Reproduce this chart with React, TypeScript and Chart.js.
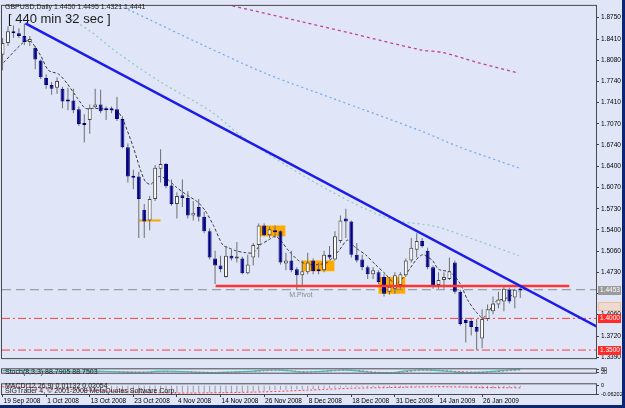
import React, { useEffect, useRef } from "react";
import { Chart, registerables } from "chart.js";

Chart.register(...registerables);

const FONT = "'Liberation Sans', Arial, sans-serif";

// ---------- texts ----------
const headerText = "GBPUSD,Daily  1.4450 1.4495 1.4321 1.4441";
const timerText = "[ 440 min 32 sec ]";
const stochText = "Stoch(8,3,3) 88.7905 88.7503";
const macdText = "MACD(12,26,9) 0.01132 0.02054";
const copyrightText = "SIGTrader 4, \u00a9 2001-2008 MetaQuotes Software Corp.";
const pivotName = "M.Pivot";

// ---------- x axis ----------
const dateLabels = [
  "19 Sep 2008", "1 Oct 2008", "13 Oct 2008", "23 Oct 2008", "4 Nov 2008", "14 Nov 2008",
  "26 Nov 2008", "8 Dec 2008", "18 Dec 2008", "31 Dec 2008", "14 Jan 2009", "26 Jan 2009",
];
const dateLabelIdx = [0, 8, 16, 24, 32, 40, 48, 56, 64, 72, 80, 88];
const XMIN = -0.1;
const XMAX = 108.9;

// ---------- price axis ----------
const YMIN = 1.3373;
const YMAX = 1.8935;
const priceTicks = [
  1.875, 1.841, 1.808, 1.774, 1.741, 1.707, 1.674, 1.64, 1.607, 1.573, 1.54, 1.506, 1.473,
  1.439, 1.406, 1.372, 1.339,
];

// ---------- OHLC (daily bars) ----------
const opens = [
  1.8165, 1.835, 1.8535, 1.8504, 1.8458, 1.8365, 1.8273, 1.8072, 1.7795, 1.7687, 1.7641, 1.7626,
  1.7456, 1.7441, 1.7302, 1.7071, 1.7132, 1.7333, 1.7379, 1.7302, 1.7302, 1.7302, 1.7148, 1.6701,
  1.6254, 1.6239, 1.5715, 1.5546, 1.5884, 1.6362, 1.6439, 1.61, 1.5807, 1.5946, 1.59, 1.5623,
  1.5761, 1.5607, 1.5376, 1.4944, 1.4837, 1.4652, 1.4991, 1.4944, 1.4944, 1.4713, 1.496, 1.516,
  1.5468, 1.5314, 1.5391, 1.5376, 1.4868, 1.4914, 1.4775, 1.4683, 1.4729, 1.4914, 1.4775, 1.476,
  1.5006, 1.4929, 1.5222, 1.5576, 1.553, 1.5006, 1.4929, 1.4806, 1.4698, 1.4729, 1.4652, 1.4421,
  1.4467, 1.4529, 1.4683, 1.4914, 1.5083, 1.5222, 1.5068, 1.4806, 1.4529, 1.4606, 1.4621, 1.4883,
  1.4421, 1.3974, 1.3958, 1.3866, 1.3681, 1.3989, 1.4113, 1.4221, 1.4267, 1.4452, 1.4329, 1.445,
];
const highs = [
  1.8427, 1.8612, 1.8627, 1.8581, 1.8658, 1.8458, 1.8303, 1.8088, 1.7857, 1.7733, 1.781, 1.7657,
  1.7641, 1.7626, 1.7348, 1.7225, 1.7379, 1.7626, 1.761, 1.7348, 1.7348, 1.7502, 1.7194, 1.6763,
  1.6347, 1.6316, 1.5807, 1.5931, 1.6424, 1.667, 1.6455, 1.6193, 1.5992, 1.6193, 1.6008, 1.5854,
  1.5884, 1.5684, 1.5422, 1.5068, 1.4991, 1.5145, 1.5083, 1.5206, 1.4975, 1.5006, 1.5191, 1.5499,
  1.5499, 1.5453, 1.5468, 1.5391, 1.5037, 1.5068, 1.4806, 1.4914, 1.5037, 1.4944, 1.4883, 1.5068,
  1.5145, 1.5376, 1.5623, 1.573, 1.5546, 1.5191, 1.5006, 1.4837, 1.4806, 1.476, 1.4698, 1.4652,
  1.4729, 1.4729, 1.4944, 1.5268, 1.5345, 1.5268, 1.5114, 1.4837, 1.4729, 1.4729, 1.496, 1.4914,
  1.4452, 1.4005, 1.3989, 1.3989, 1.4144, 1.4221, 1.4344, 1.4421, 1.4498, 1.4483, 1.4467, 1.4495,
];
const lows = [
  1.7918, 1.8303, 1.8427, 1.8427, 1.8319, 1.8303, 1.7934, 1.778, 1.7626, 1.7533, 1.7548, 1.7317,
  1.7287, 1.724, 1.704, 1.6778, 1.6917, 1.7317, 1.724, 1.7132, 1.724, 1.7117, 1.6686, 1.6146,
  1.6039, 1.5268, 1.5268, 1.5391, 1.5854, 1.6146, 1.6054, 1.5777, 1.5576, 1.5761, 1.5576, 1.5546,
  1.553, 1.5345, 1.4929, 1.4544, 1.4729, 1.464, 1.4914, 1.4883, 1.4698, 1.4698, 1.4837, 1.496,
  1.5299, 1.5268, 1.5268, 1.4852, 1.476, 1.4729, 1.4452, 1.4529, 1.4698, 1.4698, 1.4698, 1.4729,
  1.4929, 1.4914, 1.5191, 1.5268, 1.496, 1.4883, 1.476, 1.4621, 1.4621, 1.4544, 1.4344, 1.4375,
  1.439, 1.4467, 1.4652, 1.4883, 1.496, 1.5114, 1.4775, 1.4467, 1.4467, 1.4467, 1.4606, 1.439,
  1.3882, 1.3619, 1.3728, 1.3496, 1.3527, 1.3958, 1.4066, 1.4159, 1.4113, 1.4236, 1.4159, 1.4321,
];
const closes = [
  1.835, 1.8535, 1.8504, 1.8458, 1.8365, 1.8411, 1.8088, 1.781, 1.7687, 1.7626, 1.7749, 1.7425,
  1.7425, 1.7287, 1.7071, 1.7055, 1.7317, 1.7379, 1.7271, 1.7287, 1.7287, 1.7148, 1.6701, 1.6239,
  1.6223, 1.5884, 1.553, 1.5884, 1.6378, 1.6439, 1.6085, 1.5807, 1.5931, 1.59, 1.5623, 1.5669,
  1.5607, 1.5376, 1.496, 1.4837, 1.4775, 1.4991, 1.4944, 1.4975, 1.4713, 1.4852, 1.516, 1.5468,
  1.5314, 1.5407, 1.5361, 1.4883, 1.4914, 1.476, 1.4683, 1.4744, 1.4883, 1.4744, 1.4744, 1.5006,
  1.496, 1.5299, 1.5546, 1.553, 1.5006, 1.4914, 1.4806, 1.4698, 1.476, 1.4575, 1.439, 1.4498,
  1.4683, 1.4698, 1.4914, 1.5114, 1.5222, 1.5145, 1.4806, 1.4498, 1.4606, 1.4652, 1.4744, 1.4421,
  1.3912, 1.3928, 1.3866, 1.3789, 1.3989, 1.4144, 1.4236, 1.4298, 1.4467, 1.4267, 1.4452, 1.4441,
];

// ---------- moving averages (read points: bar position, price) ----------
const shortMaIdx = [
  0.2, 3.9, 5.1, 7, 8.4, 10.3, 11.9, 13.8, 15.2, 16.7, 19.3, 21.1, 22.2, 24, 25.3, 26.2, 27.2, 28.6,
  30.3, 31.7, 33.6, 35.8, 37.2, 38.7, 40.4, 41.5, 42.8, 44.6, 46, 47.3, 48.8, 50.1, 51.4, 52.5, 54.3,
  56.1, 58, 59.6, 61.7, 63.3, 64.8, 66.6, 68.4, 70.3, 72.1, 73.9, 75.8, 77.1, 78.9, 80, 82.2, 84,
  85.3, 86.8, 88.1, 89, 90.5, 92.3, 94.7,
];
const shortMaVals = [
  1.8041, 1.8365, 1.8381, 1.815, 1.7918, 1.7857, 1.7703, 1.7471, 1.7317, 1.7317, 1.7302, 1.7271,
  1.7117, 1.6701, 1.6347, 1.6162, 1.6116, 1.6239, 1.6193, 1.6085, 1.5962, 1.5838, 1.57, 1.5468,
  1.516, 1.5114, 1.5068, 1.5037, 1.5037, 1.516, 1.5237, 1.5299, 1.5191, 1.5068, 1.4914, 1.4852,
  1.4852, 1.4883, 1.5068, 1.5237, 1.5114, 1.5006, 1.4852, 1.4698, 1.4544, 1.4683, 1.4914, 1.5006,
  1.4914, 1.4775, 1.4729, 1.4544, 1.4297, 1.4113, 1.4005, 1.4082, 1.4267, 1.4313, 1.4421,
];
const tealMaIdx = [11.9, 16.1, 21.1, 29, 38.2, 44.2, 52.8, 60.2, 66.6, 72.1, 79.4, 86.8, 94.7];
const tealMaVals = [
  1.8766, 1.8535, 1.8196, 1.7733, 1.7271, 1.6855, 1.6378, 1.6008, 1.573, 1.5546, 1.5453, 1.5238,
  1.4991,
];
const blueMaIdx = [21.3, 23.5, 36.7, 48.6, 60.7, 76.7, 84, 94.7];
const blueMaVals = [1.8935, 1.8858, 1.8319, 1.7857, 1.7471, 1.6963, 1.6701, 1.6378];
const purpleMaIdx = [42.2, 54.7, 63.9, 76.7, 80.9, 87.2, 94.7];
const purpleMaVals = [1.8935, 1.8689, 1.8504, 1.8242, 1.8196, 1.8041, 1.7872];

// ---------- drawn objects ----------
const trendIdx = [4.2, 109];
const trendVals = [1.8658, 1.3872];
const resistanceIdx = [39.1, 104];
const resistanceVal = 1.4513;
const pivotVal = 1.4453;
const pivotLabelIdx = 52.6;
const supportVals = [1.4, 1.35];
const orangeMarkIdx = [25, 29];
const orangeMarkVal = 1.5546;
const boxFrom = [47.2, 54.9, 69];
const boxTo = [51.9, 60.9, 73.9];
const boxTop = [1.5468, 1.4914, 1.4652];
const boxBottom = [1.5299, 1.4744, 1.439];

// right-axis price tags
const tagValues = [1.4453, 1.419, 1.4, 1.35];
const tagTexts = ["1.4453", "", "1.4000", "1.3500"];
const tagFills = ["#9a9a9a", "rgba(255,205,160,0.45)", "#ff2b2b", "#ff2b2b"];

// ---------- Stochastic ----------
const stochIdx = [
  0, 4, 8, 12, 16, 18, 20, 24, 27, 28, 30, 31, 34, 36, 39, 42, 45, 48, 50, 51, 53, 54, 56, 58, 60,
  62, 64, 66, 68, 70, 72, 74, 76, 77, 80, 84, 87, 90, 93, 95,
];
const stochK = [
  60, 70, 30, 40, 45, 40, 30, 12, 20, 38, 45, 40, 25, 8, 5, 20, 38, 75, 80, 77, 50, 23, 20, 35, 62,
  80, 70, 38, 5, 2, 5, 55, 80, 85, 60, 10, 8, 40, 85, 88.79,
];
const stochD = [
  55, 62, 45, 38, 42, 42, 36, 20, 16, 28, 38, 41, 33, 16, 8, 12, 28, 55, 72, 78, 65, 40, 25, 28, 48,
  70, 75, 55, 20, 6, 4, 30, 65, 78, 70, 30, 12, 25, 65, 88.75,
];

// ---------- MACD ----------
const macdHist = [
  -0.01, -0.012, -0.014, -0.016, -0.018, -0.02, -0.023, -0.026,
  -0.029, -0.032, -0.035, -0.038, -0.04, -0.042, -0.044, -0.046,
  -0.047, -0.048, -0.048, -0.049, -0.05, -0.051, -0.053, -0.056,
  -0.059, -0.061, -0.062, -0.061, -0.059, -0.057, -0.055, -0.054,
  -0.053, -0.052, -0.052, -0.052, -0.051, -0.051, -0.052, -0.054,
  -0.055, -0.055, -0.054, -0.052, -0.05, -0.048, -0.045, -0.042,
  -0.039, -0.036, -0.034, -0.033, -0.032, -0.031, -0.031, -0.03,
  -0.029, -0.028, -0.026, -0.024, -0.022, -0.019, -0.016, -0.013,
  -0.012, -0.012, -0.012, -0.013, -0.014, -0.015, -0.017, -0.019,
  -0.019, -0.018, -0.016, -0.013, -0.01, -0.008, -0.007, -0.008,
  -0.009, -0.01, -0.01, -0.01, -0.012, -0.016, -0.02, -0.023,
  -0.025, -0.025, -0.024, -0.022, -0.02, -0.018, -0.016, -0.014,
];
const macdSignalIdx = [0, 8, 16, 24, 32, 40, 48, 56, 64, 72, 80, 88, 95];
const macdSignal = [
  -0.012, -0.02, -0.038, -0.048, -0.055, -0.053, -0.047, -0.035, -0.022, -0.016, -0.011, -0.016,
  -0.019,
];
const macdTicks = [0, -0.06202];

// ---------- helpers ----------
const pts = (xs: number[], ys: number[]) => xs.map((x, i) => ({ x, y: ys[i] }));
const flat = (xs: number[], v: number) => xs.map((x) => ({ x, y: v }));
const AXIS_W = 26;
const PAD = { left: 2, right: 3 };

const framePlugin = {
  id: "frame",
  afterDraw(chart: any) {
    const { ctx, chartArea: a } = chart;
    ctx.save();
    ctx.strokeStyle = "#4a4a4a";
    ctx.lineWidth = 1;
    ctx.strokeRect(a.left - 0.5, a.top - 0.5, a.right - a.left + 1, a.bottom - a.top + 1);
    ctx.restore();
  },
};

const tagPlugin = {
  id: "tags",
  afterDatasetsDraw(chart: any) {
    const { ctx, scales } = chart;
    ctx.save();
    ctx.fillStyle = "#8a8a8a";
    ctx.font = `7px ${FONT}`;
    ctx.textBaseline = "top";
    ctx.fillText(pivotName, scales.x.getPixelForValue(pivotLabelIdx), scales.y.getPixelForValue(pivotVal) + 1.5);
    ctx.restore();
  },
  afterDraw(chart: any) {
    const { ctx, chartArea, scales } = chart;
    ctx.save();
    ctx.font = `6.5px ${FONT}`;
    ctx.textBaseline = "middle";
    tagValues.forEach((v, k) => {
      const y = Math.round(scales.y.getPixelForValue(v));
      const x0 = chartArea.right + 2;
      ctx.fillStyle = tagFills[k];
      ctx.fillRect(x0, y - 4, 23, 9);
      if (!tagTexts[k]) {
        ctx.strokeStyle = "#f0a060";
        ctx.setLineDash([1, 1]);
        ctx.strokeRect(x0 + 0.5, y - 3.5, 22, 8);
        ctx.setLineDash([]);
      } else {
        ctx.fillStyle = "#ffffff";
        ctx.fillText(tagTexts[k], x0 + 2, y + 0.5);
      }
    });
    ctx.restore();
  },
};

const lineDs = (data: any[], color: string, width: number, dash: number[] = [], order = 5, tension = 0) => ({
  type: "line",
  data,
  borderColor: color,
  borderWidth: width,
  borderDash: dash,
  pointRadius: 0,
  fill: false,
  tension,
  order,
});

const rightAxis = (min: number, max: number, ticks: number[], fmt: (v: number) => string, size: number) => ({
  position: "right",
  min,
  max,
  afterFit: (s: any) => {
    s.width = AXIS_W;
  },
  afterBuildTicks: (s: any) => {
    s.ticks = ticks.map((v) => ({ value: v }));
  },
  ticks: {
    callback: (v: any) => fmt(Number(v)),
    font: { family: FONT, size },
    color: "#000",
    padding: 2,
    autoSkip: false,
  },
  grid: { drawOnChartArea: false, drawTicks: true, tickLength: 3, color: "#404040" },
  border: { display: true, color: "#404040" },
});

const hiddenX = { type: "linear", min: XMIN, max: XMAX, offset: false, display: false };

function mainConfig(): any {
  const idx = opens.map((_, i) => i);
  const boxes = boxFrom.map((a, k) => ({
    type: "line",
    data: [
      { x: a, y: boxTop[k] },
      { x: boxTo[k], y: boxTop[k] },
      { x: boxTo[k], y: boxBottom[k] },
      { x: a, y: boxBottom[k] },
    ],
    backgroundColor: "#ffaa00",
    borderWidth: 0,
    pointRadius: 0,
    fill: "shape",
    order: 20,
  }));
  return {
    type: "bar",
    data: {
      datasets: [
        ...boxes,
        lineDs(flat(orangeMarkIdx, orangeMarkVal), "#ffa500", 2, [], 19),
        lineDs(pts(tealMaIdx, tealMaVals), "#8cc8c0", 1.2, [2, 3], 18, 0.3),
        lineDs(pts(blueMaIdx, blueMaVals), "#6aa8f0", 1.2, [2, 3], 18, 0.3),
        lineDs(pts(purpleMaIdx, purpleMaVals), "#c0409a", 1.3, [3, 3], 18, 0.3),
        lineDs(flat([XMIN, XMAX], pivotVal), "#8c8c8c", 1, [9, 5], 17),
        lineDs(flat([XMIN, XMAX], supportVals[0]), "#ff3c3c", 1, [8, 3, 2, 3], 17),
        lineDs(flat([XMIN, XMAX], supportVals[1]), "#ff3c3c", 1, [8, 3, 2, 3], 17),
        lineDs(pts(shortMaIdx, shortMaVals), "#3a3a3a", 1, [3, 2], 16, 0.25),
        {
          type: "bar",
          data: idx.map((i) => ({ x: i, y: [lows[i], highs[i]] })),
          backgroundColor: "#6e6e6e",
          borderWidth: 0,
          maxBarThickness: 1,
          grouped: false,
          order: 4,
        },
        {
          type: "bar",
          data: idx.map((i) => ({ x: i, y: [opens[i], closes[i]] })),
          backgroundColor: idx.map((i) => (closes[i] >= opens[i] ? "#ffffff" : "#000080")),
          borderColor: idx.map((i) => (closes[i] >= opens[i] ? "#454545" : "#000080")),
          borderWidth: 1,
          borderSkipped: false,
          maxBarThickness: 4,
          minBarLength: 2,
          grouped: false,
          order: 3,
        },
        lineDs(flat(resistanceIdx, resistanceVal), "#ff3535", 2.5, [], 2),
        lineDs(pts(trendIdx, trendVals), "#1c1ce8", 2.5, [], 1),
      ],
    },
    options: {
      responsive: false,
      animation: false,
      devicePixelRatio: 1,
      layout: { padding: { left: PAD.left, right: PAD.right, top: 2, bottom: 1 } },
      plugins: { legend: { display: false }, tooltip: { enabled: false } },
      scales: {
        x: hiddenX,
        y: rightAxis(YMIN, YMAX, priceTicks, (v) => v.toFixed(4), 6.5),
      },
    },
    plugins: [framePlugin, tagPlugin],
  };
}

function stochConfig(): any {
  return {
    type: "line",
    data: {
      datasets: [
        lineDs(pts(stochIdx, stochD), "#ff4040", 1, [2, 2], 2, 0.3),
        lineDs(pts(stochIdx, stochK), "#3cbcbc", 1.2, [], 1, 0.3),
      ],
    },
    options: {
      responsive: false,
      animation: false,
      devicePixelRatio: 1,
      layout: { padding: { left: PAD.left, right: PAD.right, top: 1, bottom: 0 } },
      plugins: { legend: { display: false }, tooltip: { enabled: false } },
      scales: {
        x: hiddenX,
        y: rightAxis(0, 100, [80, 20], (v) => String(v), 5.5),
      },
    },
    plugins: [framePlugin],
  };
}

function macdConfig(): any {
  return {
    type: "bar",
    data: {
      datasets: [
        lineDs(pts(macdSignalIdx, macdSignal), "#ff4040", 1, [2, 2], 1, 0.3),
        {
          type: "bar",
          data: macdHist.map((v, i) => ({ x: i, y: v })),
          backgroundColor: "#9c9c9c",
          borderWidth: 0,
          maxBarThickness: 1,
          grouped: false,
          order: 2,
        },
      ],
    },
    options: {
      responsive: false,
      animation: false,
      devicePixelRatio: 1,
      layout: { padding: { left: PAD.left, right: PAD.right, top: 1, bottom: 0 } },
      plugins: { legend: { display: false }, tooltip: { enabled: false } },
      scales: {
        x: {
          type: "linear",
          min: XMIN,
          max: XMAX,
          offset: false,
          afterFit: (s: any) => {
            s.height = 11;
          },
          afterBuildTicks: (s: any) => {
            s.ticks = dateLabelIdx.map((v) => ({ value: v }));
          },
          ticks: {
            callback: (_v: any, i: number) => dateLabels[i],
            align: "start",
            labelOffset: 1,
            padding: 0,
            maxRotation: 0,
            minRotation: 0,
            autoSkip: false,
            font: { family: FONT, size: 6.5 },
            color: "#000",
          },
          grid: { offset: false, drawOnChartArea: false, drawTicks: true, tickLength: 3, color: "#404040" },
          border: { display: true, color: "#404040" },
        },
        y: rightAxis(-0.06202, 0.006, macdTicks, (v) => (v === 0 ? "0" : v.toFixed(5)), 5.5),
      },
    },
    plugins: [framePlugin],
  };
}

function Panel({ top, height, make }: { top: number; height: number; make: () => any }) {
  const ref = useRef<HTMLCanvasElement | null>(null);
  useEffect(() => {
    const chart = new Chart(ref.current as HTMLCanvasElement, make());
    return () => chart.destroy();
  }, []);
  return (
    <canvas
      ref={ref}
      width={625}
      height={height}
      style={{ position: "absolute", left: 0, top, width: 625, height }}
    />
  );
}

const textStyle = (left: number, top: number, size: number): React.CSSProperties => ({
  position: "absolute",
  left,
  top,
  fontFamily: FONT,
  fontSize: size,
  lineHeight: 1,
  color: "#1a1a1a",
  whiteSpace: "nowrap",
});

export default function App() {
  return (
    <div style={{ position: "fixed", left: 0, top: 0, width: 625, height: 408, background: "#0c2676", overflow: "hidden" }}>
      <div style={{ position: "absolute", left: 0, top: 0, width: 622, height: 405, background: "#e0e6f7" }} />
      <Panel top={0} height={364} make={mainConfig} />
      <Panel top={364} height={14} make={stochConfig} />
      <Panel top={379} height={26} make={macdConfig} />
      <div style={textStyle(5, 3, 7)}>{headerText}</div>
      <div style={textStyle(8, 12, 13)}>{timerText}</div>
      <div style={textStyle(5, 368, 7)}>{stochText}</div>
      <div style={textStyle(5, 382, 7)}>{macdText}</div>
      <div style={textStyle(5, 387, 7)}>{copyrightText}</div>
    </div>
  );
}
